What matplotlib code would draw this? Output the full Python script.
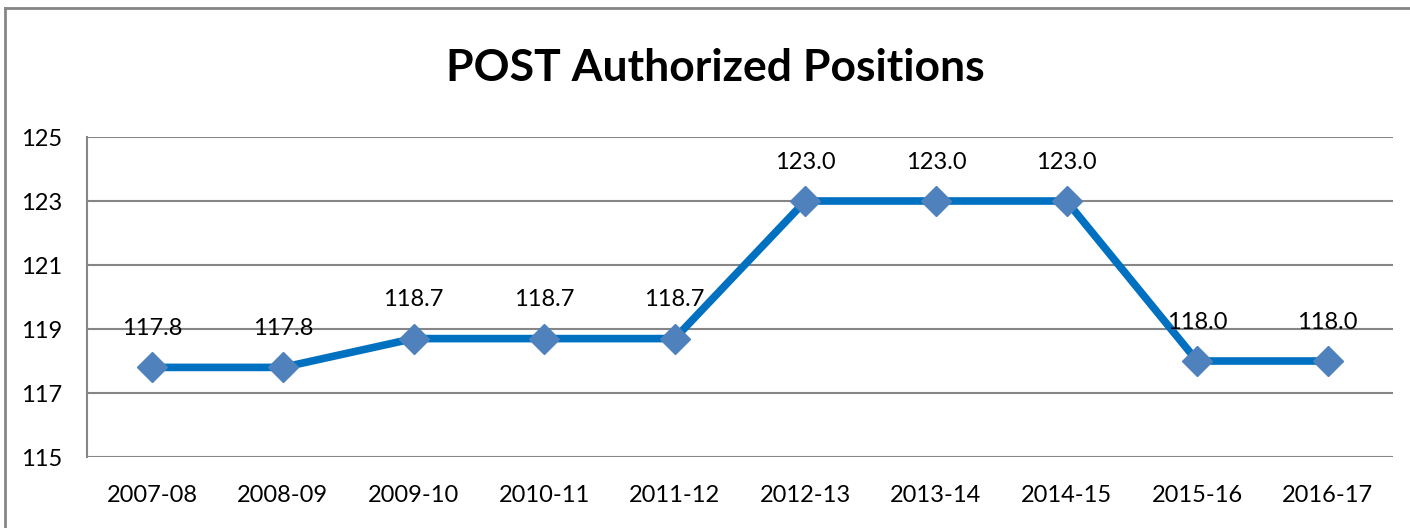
import matplotlib.pyplot as plt
from matplotlib.lines import Line2D

years = ["2007-08", "2008-09", "2009-10", "2010-11", "2011-12",
         "2012-13", "2013-14", "2014-15", "2015-16", "2016-17"]
positions = [117.8, 117.8, 118.7, 118.7, 118.7, 123.0, 123.0, 123.0, 118.0, 118.0]
yticks = [115, 117, 119, 121, 123, 125]

plt.rcParams['font.family'] = ['Lato', 'DejaVu Sans']

fig = plt.figure(figsize=(14.1, 5.28), dpi=100)
ax = fig.add_axes([87/1410, 1 - 457/528, (1393-87)/1410, (457-137)/528])

# outer chart border (left and top edges only show)
bx, by = 5/1410, 1 - 8/528
fig.lines.append(Line2D([bx, bx], [0, by], transform=fig.transFigure,
                        color='#868686', linewidth=2))
fig.lines.append(Line2D([bx, 1], [by, by], transform=fig.transFigure,
                        color='#868686', linewidth=2))

x = range(len(years))
ax.plot(x, positions, color='#0070C0', linewidth=5.5, marker='D',
        markersize=15, markerfacecolor='#4F81BD', markeredgecolor='#4F81BD',
        zorder=3)

for i, v in enumerate(positions):
    ax.annotate(f"{v:.1f}", (i, v), xytext=(0, 28), textcoords='offset points',
                ha='center', va='center', fontsize=17, color='black')

ax.set_xlim(-0.5, len(years) - 0.5)
ax.set_ylim(115, 125)
ax.set_yticks(yticks)
ax.set_xticks(list(x))
ax.set_xticklabels(years)
ax.yaxis.grid(True, color='#868686', linewidth=1.5)
ax.set_axisbelow(True)
for s in ['top', 'right', 'bottom']:
    ax.spines[s].set_visible(False)
ax.spines['left'].set_color('#868686')
ax.spines['left'].set_linewidth(1.5)
ax.tick_params(axis='both', length=0, labelsize=17, colors='black')
ax.tick_params(axis='x', pad=20)
ax.tick_params(axis='y', pad=18)

fig.text(0.507, 1 - 68/528, "POST Authorized Positions", ha='center', va='center',
         fontsize=32, fontweight='bold')

fig.savefig("out.png", dpi=100)
